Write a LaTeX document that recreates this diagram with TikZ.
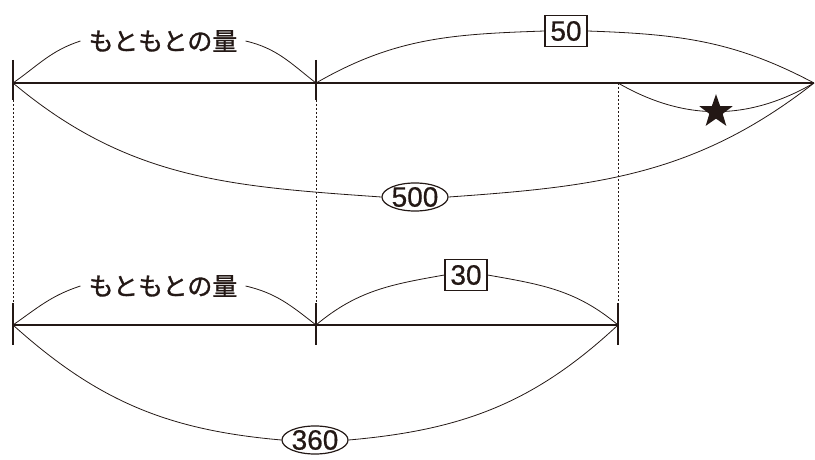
\documentclass[tikz,border=0pt]{standalone}
\usepackage{fontspec}
\newfontfamily\jp[FakeBold=1.2]{Noto Sans CJK JP}
\newfontfamily\num[FakeBold=0.6]{Liberation Sans}
\usetikzlibrary{shapes.geometric}
\definecolor{ink}{RGB}{35,24,21}
\begin{document}
\begin{tikzpicture}[x=1pt,y=1pt,
  bar/.style={ink,line width=1.6pt},
  tickmark/.style={ink,line width=1.3pt},
  guide/.style={ink,line width=0.9pt,dash pattern=on 2pt off 2pt},
  arcline/.style={ink,line width=0.8pt},
  jplabel/.style={text=ink,font=\jp\fontsize{25}{25}\selectfont,inner xsep=8pt,inner ysep=2pt},
  numbox/.style={draw=ink,line width=1.2pt,text=ink,font=\num\fontsize{28}{28}\selectfont,minimum width=42pt,minimum height=31pt,inner sep=0pt},
  numoval/.style={ellipse,draw=ink,line width=1.2pt,text=ink,font=\num\fontsize{28}{28}\selectfont,inner sep=0pt},
  starmark/.style={star,star points=5,star point ratio=2.5,minimum size=35pt,fill=ink,draw=none,inner sep=0pt},
]
\useasboundingbox (0,0) rectangle (815,459);
% points on the bars
\coordinate (T0) at (13,376);
\coordinate (T1) at (316,376);
\coordinate (T2) at (618,376);
\coordinate (T3) at (814,376);
\coordinate (B0) at (13,134);
\coordinate (B1) at (316,134);
\coordinate (B2) at (618,134);
% labels
\node[jplabel] (L1) at (163,418) {もともとの量};
\node[numbox] (N50) at (566,428) {50};
\node[numoval] (O500) at (415,262) {500};
\node[jplabel] (L2) at (163,173) {もともとの量};
\node[numbox] (N30) at (466,184) {30};
\node[numoval] (O360) at (315,19) {360};
% guides
\draw[guide] ([yshift=-17pt]T0) -- ([yshift=22pt]B0);
\draw[guide] ([yshift=-17pt]T1) -- ([yshift=22pt]B1);
\draw[guide] (T2) -- ([yshift=22pt]B2);
% arcs top
\draw[arcline] (T0) to[out=35,in=198] (L1.west);
\draw[arcline] (L1.east) to[out=-13,in=142] (T1);
\draw[arcline] (T1) to[out=30,in=182] (N50.west);
\draw[arcline] (N50.east) to[out=-2,in=152] (T3);
\draw[arcline] (T2) to[out=-30,in=-150] node[starmark] (S) {} (T3);
\draw[arcline] (T0) to[out=-40,in=176] (O500.west);
\draw[arcline] (O500.east) to[out=4,in=-142] (T3);
% arcs bottom
\draw[arcline] (B0) to[out=35,in=198] (L2.west);
\draw[arcline] (L2.east) to[out=-13,in=142] (B1);
\draw[arcline] (B1) to[out=40,in=190] (N30.west);
\draw[arcline] (N30.east) to[out=-10,in=140] (B2);
\draw[arcline] (B0) to[out=-42,in=175] (O360.west);
\draw[arcline] (O360.east) to[out=5,in=-137] (B2);
% bars and ticks
\draw[bar] (T0) -- (T3);
\draw[bar] (B0) -- (B2);
\foreach \p in {T0,T1} \draw[tickmark] ([yshift=23pt]\p) -- ([yshift=-17pt]\p);
\foreach \p in {B0,B1,B2} \draw[tickmark] ([yshift=22pt]\p) -- ([yshift=-20pt]\p);
\end{tikzpicture}
\end{document}
